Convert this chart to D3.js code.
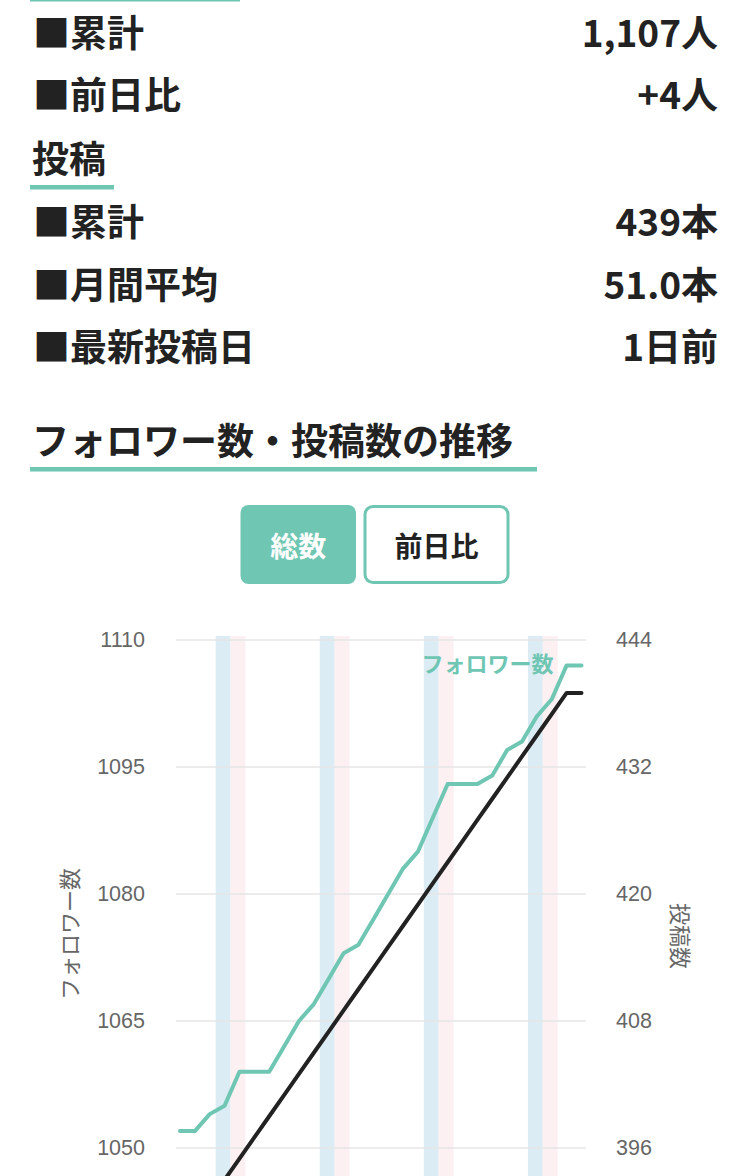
<!DOCTYPE html>
<html lang="ja">
<head>
<meta charset="utf-8">
<script src="https://cdn.jsdelivr.net/npm/d3@7"></script>
<style>
  html, body { margin: 0; padding: 0; background: #fff; }
  svg { display: block; font-family: "Noto Sans CJK JP", "Noto Sans", sans-serif; }
</style>
</head>
<body>
<div id="chart"></div>
<script>
// 上部の集計
const followerStatLabels = ['累計', '前日比']
const followerStatValues = ['1,107人', '+4人']
const postStatLabels = ['累計', '月間平均', '最新投稿日']
const postStatValues = ['439本', '51.0本', '1日前']

// 切り替えボタン
const toggleLabels = ['総数', '前日比']

// 28日分 (土日は背景に帯)
const weekdays = ['水', '木', '金', '土', '日', '月', '火',
    '水', '木', '金', '土', '日', '月', '火',
    '水', '木', '金', '土', '日', '月', '火',
    '水', '木', '金', '土', '日', '月', '火']
const followers = [1052, 1052, 1054, 1055, 1059, 1059, 1059, 1062, 1065, 1067,
    1070, 1073, 1074, 1077, 1080, 1083, 1085, 1089, 1093, 1093,
    1093, 1094, 1097, 1098, 1101, 1103, 1107, 1107]
const posts = [387, 389, 391, 393, 395, 397, 399, 401, 403, 405,
    407, 409, 411, 413, 415, 417, 419, 421, 423, 425,
    427, 429, 431, 433, 435, 437, 439, 439]

const followerTicks = [1050, 1065, 1080, 1095, 1110]
const postTicks = [396, 408, 420, 432, 444]

const TEAL = '#6ec6b3'
const INK = '#222'
const GRAY = '#666'

const W = 750
const H = 1176

const svg = d3.select('#chart').append('svg')
    .attr('width', W)
    .attr('height', H)

// 前セクションの下線の名残
svg.append('rect')
    .attr('x', 30).attr('y', -3)
    .attr('width', 210).attr('height', 4.5)
    .attr('fill', TEAL)

// ---------- 統計の行 ----------
function statRow(label, value, y) {
    svg.append('text')
        .attr('x', 33).attr('y', y)
        .attr('dominant-baseline', 'central')
        .attr('font-size', 37).attr('font-weight', 700)
        .attr('fill', INK)
        .text('■' + label)
    svg.append('text')
        .attr('x', 718).attr('y', y)
        .attr('text-anchor', 'end')
        .attr('dominant-baseline', 'central')
        .attr('font-size', 37).attr('font-weight', 700)
        .attr('fill', INK)
        .text(value)
}

function heading(label, y, lineEnd) {
    svg.append('text')
        .attr('x', 32).attr('y', y)
        .attr('dominant-baseline', 'central')
        .attr('font-size', 37).attr('font-weight', 700)
        .attr('fill', INK)
        .text(label)
    svg.append('rect')
        .attr('x', 30).attr('y', y + 28)
        .attr('width', lineEnd - 30).attr('height', 4.5)
        .attr('fill', TEAL)
}

followerStatLabels.forEach((l, i) => statRow(l, followerStatValues[i], 31 + i * 62))
heading('投稿', 157, 114)
postStatLabels.forEach((l, i) => statRow(l, postStatValues[i], 220 + i * 62.5))
heading('フォロワー数・投稿数の推移', 439, 537)

// ---------- ボタン ----------
const btnBoxes = [
    { x: 240.5, w: 115.5 },
    { x: 365, w: 143 },
]
toggleLabels.forEach((l, i) => {
    const b = btnBoxes[i]
    const active = i === 0
    svg.append('rect')
        .attr('x', b.x).attr('y', active ? 505 : 506.5)
        .attr('width', b.w).attr('height', active ? 79 : 76)
        .attr('rx', 8)
        .attr('fill', active ? TEAL : '#fff')
        .attr('stroke', active ? 'none' : TEAL)
        .attr('stroke-width', 3)
    svg.append('text')
        .attr('x', b.x + b.w / 2).attr('y', 545)
        .attr('text-anchor', 'middle')
        .attr('dominant-baseline', 'central')
        .attr('font-size', 28).attr('font-weight', 700)
        .attr('fill', active ? '#fff' : INK)
        .text(l)
})

// ---------- グラフ ----------
const x = d3.scalePoint()
    .domain(d3.range(weekdays.length))
    .range([180, 581.5])
const step = x.step()

const yF = d3.scaleLinear().domain([1050, 1110]).range([1148, 640])
const yP = d3.scaleLinear().domain([396, 444]).range([1148, 640])

// 土日の帯
svg.append('g')
    .selectAll('rect')
    .data(weekdays.map((d, i) => ({ d, i })).filter(o => o.d === '土' || o.d === '日'))
    .join('rect')
    .attr('x', o => x(o.i) - step / 2 - 1.5)
    .attr('y', 636)
    .attr('width', step)
    .attr('height', H - 636)
    .attr('fill', o => (o.d === '土' ? '#dcecf5' : '#fcf0f2'))

// グリッド
svg.append('g')
    .selectAll('line')
    .data(followerTicks)
    .join('line')
    .attr('x1', 176).attr('x2', 586)
    .attr('y1', d => yF(d)).attr('y2', d => yF(d))
    .attr('stroke', '#e6e6e6')
    .attr('stroke-width', 1.5)

// 左軸
const leftAxis = svg.append('g')
    .attr('transform', 'translate(153,0)')
    .call(d3.axisLeft(yF).tickValues(followerTicks).tickFormat(d3.format('d')).tickSize(0).tickPadding(8))
leftAxis.select('.domain').remove()
leftAxis.selectAll('text')
    .attr('font-size', 21.5).attr('fill', GRAY)
    .attr('font-family', '"Liberation Sans", Arial, sans-serif')

// 右軸
const rightAxis = svg.append('g')
    .attr('transform', 'translate(608,0)')
    .call(d3.axisRight(yP).tickValues(postTicks).tickFormat(d3.format('d')).tickSize(0).tickPadding(8))
rightAxis.select('.domain').remove()
rightAxis.selectAll('text')
    .attr('font-size', 21.5).attr('fill', GRAY)
    .attr('font-family', '"Liberation Sans", Arial, sans-serif')

// 軸タイトル
svg.append('text')
    .attr('transform', 'translate(68,934) rotate(-90)')
    .attr('text-anchor', 'middle')
    .attr('dominant-baseline', 'central')
    .attr('font-size', 22).attr('fill', GRAY)
    .text('フォロワー数')
svg.append('text')
    .attr('transform', 'translate(682,936) rotate(90)')
    .attr('text-anchor', 'middle')
    .attr('dominant-baseline', 'central')
    .attr('font-size', 22).attr('fill', GRAY)
    .text('投稿数')

// 線
const followerLine = d3.line()
    .x((d, i) => x(i))
    .y(d => yF(d))
const postLine = d3.line()
    .x((d, i) => x(i))
    .y(d => yP(d))

svg.append('path')
    .datum(posts)
    .attr('d', postLine)
    .attr('fill', 'none')
    .attr('stroke', INK)
    .attr('stroke-width', 4)
    .attr('stroke-linejoin', 'round')
    .attr('stroke-linecap', 'round')

svg.append('path')
    .datum(followers)
    .attr('d', followerLine)
    .attr('fill', 'none')
    .attr('stroke', TEAL)
    .attr('stroke-width', 4)
    .attr('stroke-linejoin', 'round')
    .attr('stroke-linecap', 'round')

// 系列ラベル
const last = followers.length - 1
svg.append('text')
    .attr('x', x(last - 1) - 13)
    .attr('y', yF(followers[last]) - 3)
    .attr('text-anchor', 'end')
    .attr('dominant-baseline', 'central')
    .attr('font-size', 22).attr('font-weight', 700)
    .attr('fill', TEAL)
    .text('フォロワー数')
</script>
</body>
</html>
